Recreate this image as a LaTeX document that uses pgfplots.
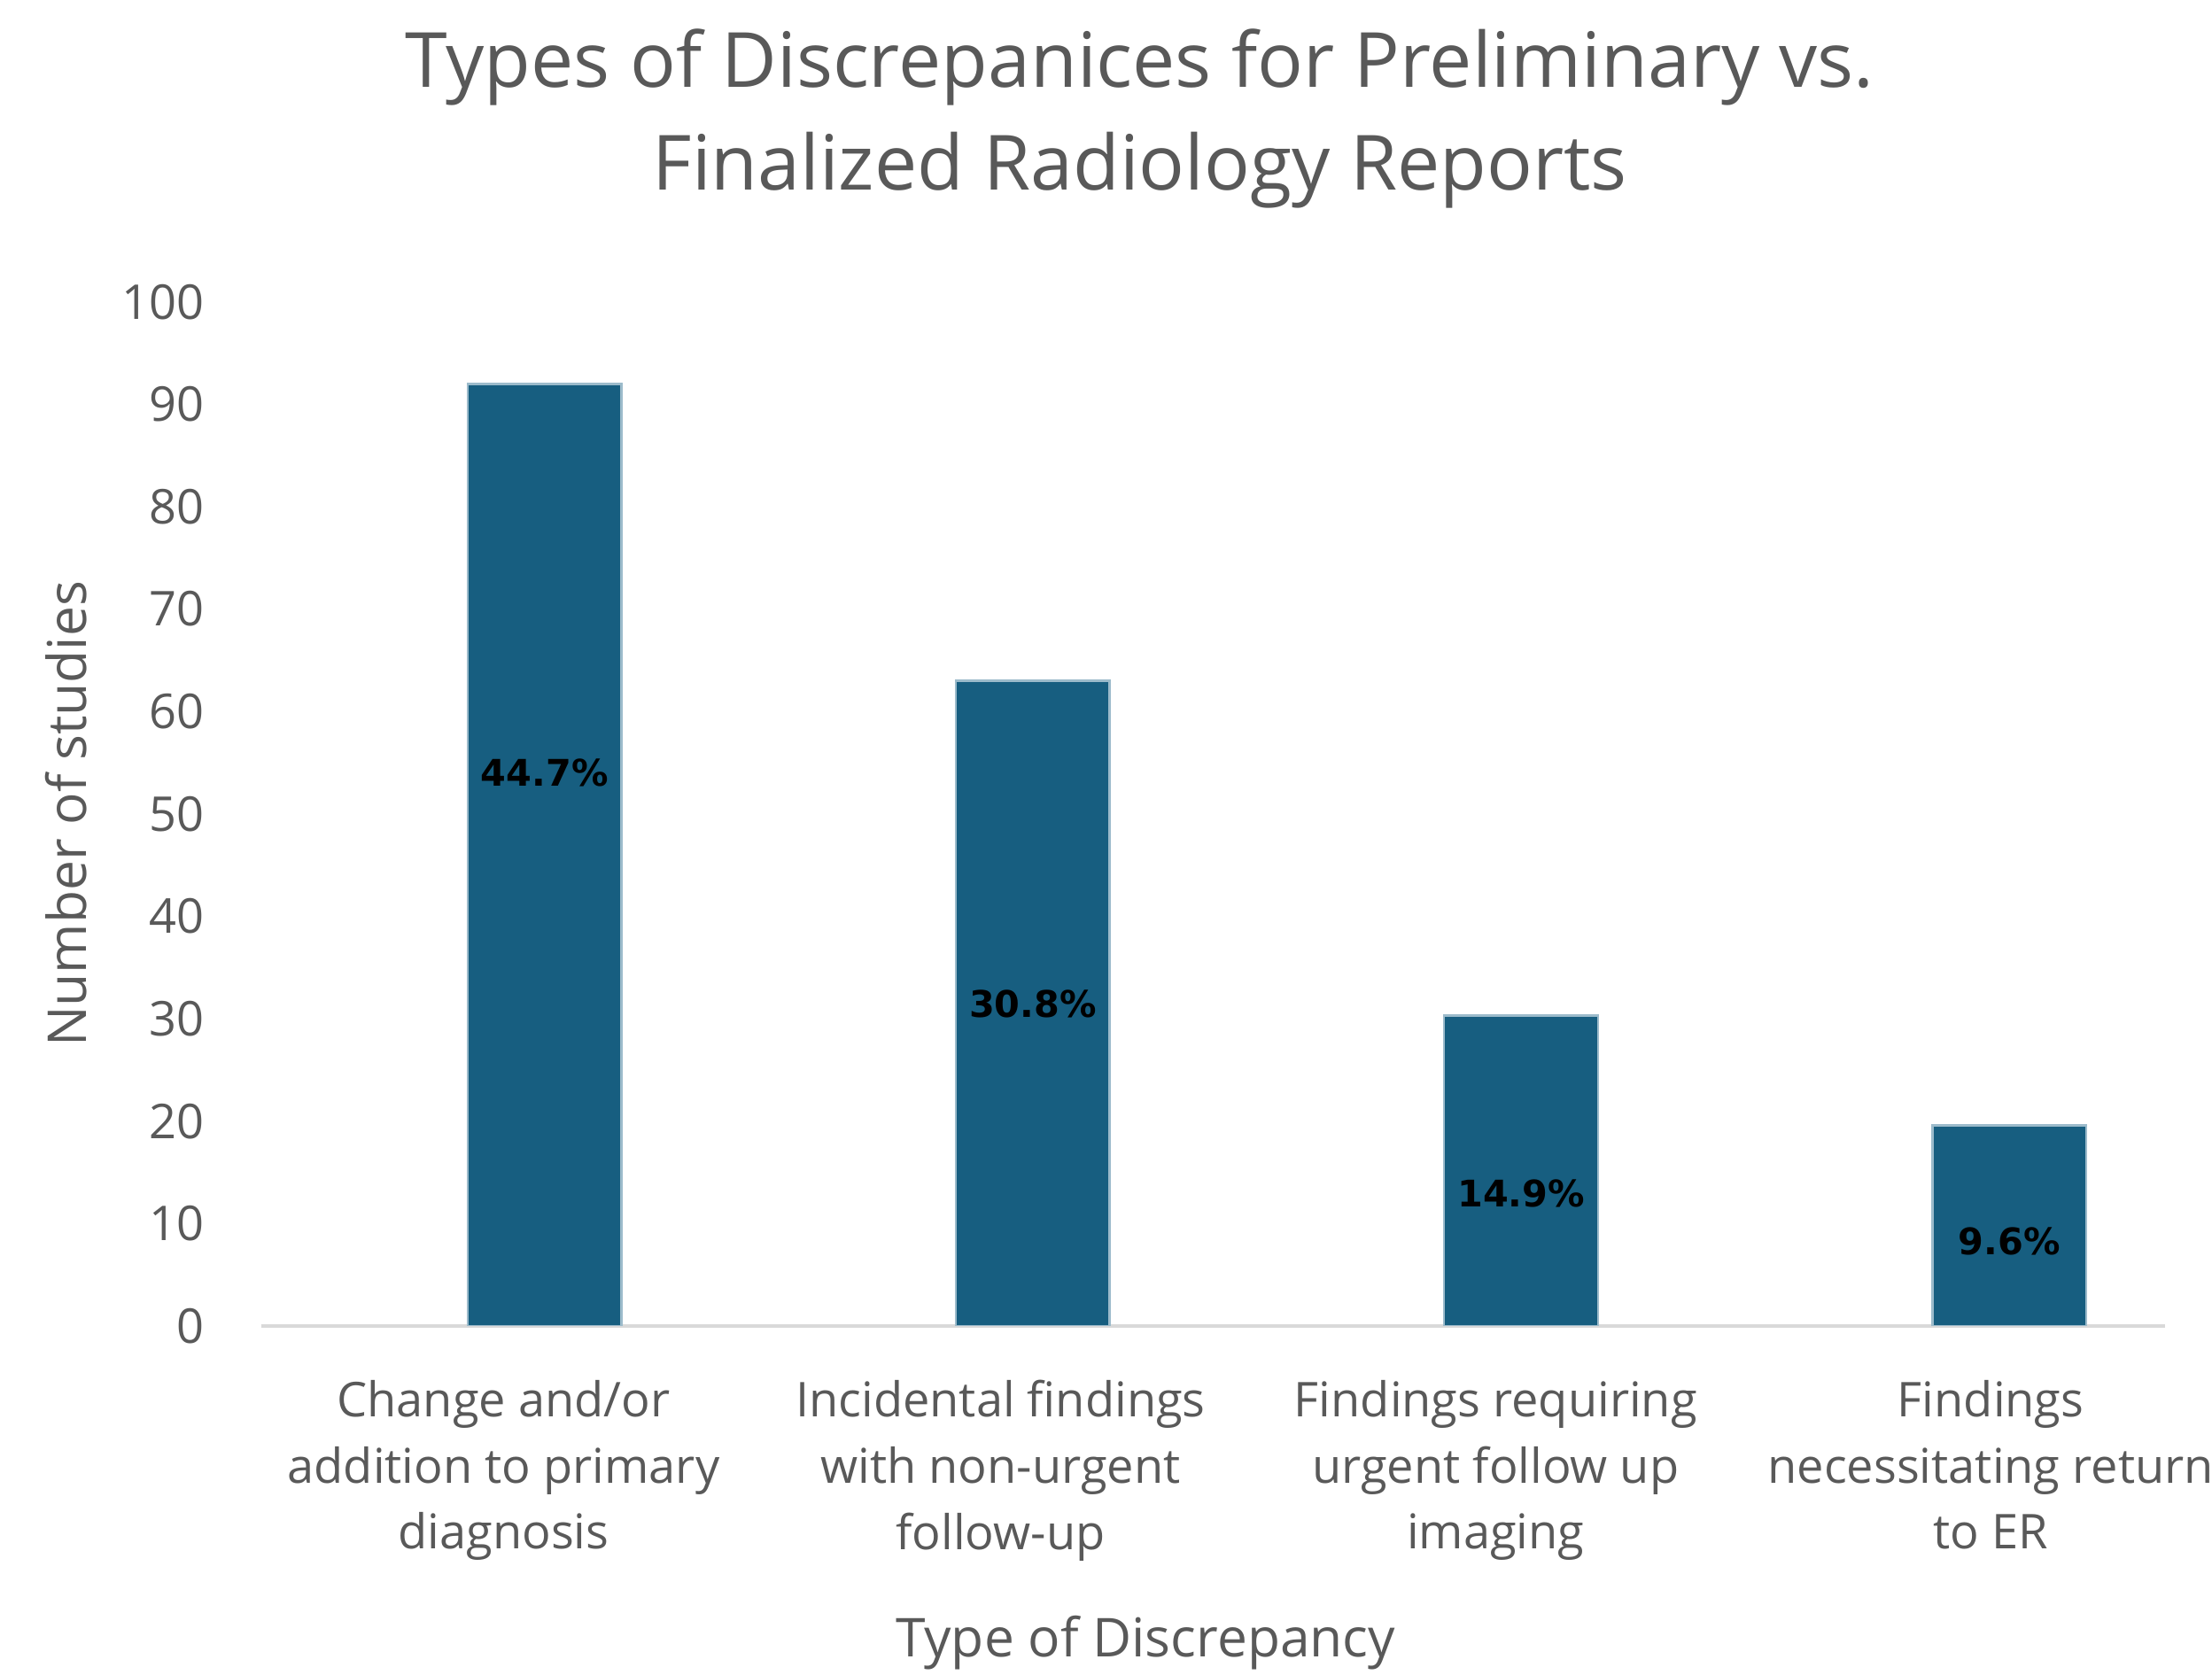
\documentclass[border=0pt]{standalone}
\usepackage{pgfplots}
\pgfplotsset{compat=1.18}
\usepackage{fontspec}
\setmainfont{Open Sans}
\newfontfamily\labfont{DejaVu Sans}

\definecolor{barblue}{HTML}{175E80}
\definecolor{baredge}{HTML}{9CBBCB}
\definecolor{txtgray}{HTML}{595959}
\definecolor{axgray}{HTML}{D9D9D9}

\begin{document}
\begin{tikzpicture}
\begin{axis}[
    scale only axis,
    width=675pt, height=363pt,
    xmin=-0.581, xmax=3.32,
    ymin=0, ymax=100,
    axis lines*=left,
    x axis line style={draw=axgray, line width=1.5pt},
    y axis line style={draw=none},
    major tick length=0pt,
    ytick={0,10,...,100},
    xtick={-0.084,0.934,1.948,2.962},
    xticklabels={
      {Change and/or\\addition to primary\\diagnosis},
      {Incidental findings\\with non-urgent\\follow-up},
      {Findings requiring\\urgent follow up\\imaging},
      {Findings\\necessitating return\\to ER}},
    /pgf/number format/assume math mode=true,
    yticklabel style={font=\fontsize{17}{20}\selectfont, text=txtgray, anchor=east, inner sep=0pt, xshift=-20pt},
    xticklabel style={font=\fontsize{17}{23.5}\selectfont, text=txtgray, align=center, anchor=north, inner sep=0pt, yshift=-19pt},
    xlabel={Type of Discrepancy},
    xlabel style={at={(axis description cs:0.4645,0)}, anchor=north, inner sep=0pt, yshift=-102.5pt, font=\fontsize{19}{23}\selectfont, text=txtgray},
    ylabel={Number of studies},
    ylabel style={at={([xshift=-69pt]axis description cs:0,0.5)}, anchor=center, font=\fontsize{19}{23}\selectfont, text=txtgray},
    title={Types of Discrepanices for Preliminary vs.\\Finalized Radiology Reports},
    title style={at={(axis description cs:0.4615,1)}, anchor=south, inner sep=0pt, yshift=27pt, align=center, font=\fontsize{27}{36.5}\selectfont, text=txtgray},
  ]
  \addplot[ybar, bar width=54.5pt, fill=barblue, draw=baredge, line width=0.8pt]
    coordinates {(0,92) (1,63) (2,30.3) (3,19.6)};
  % percentage labels sit inside the bars at Excel's offsets
  \addplot[draw=none, nodes near coords, point meta=explicit symbolic,
    nodes near coords align={center},
    every node near coord/.append style={font=\labfont\bfseries\fontsize{13}{15}\selectfont, text=black, anchor=center}]
    table[meta=lab] {
      x y lab
      0 54.0 44.7\%
      1 31.4 30.8\%
      2 12.9 14.9\%
      3 8.3 9.6\%
    };
\end{axis}
\pgfresetboundingbox
\path ([shift={(-92.5pt,-123.5pt)}]current axis.south west) rectangle ([shift={(16.5pt,107pt)}]current axis.north east);
\end{tikzpicture}
\end{document}
